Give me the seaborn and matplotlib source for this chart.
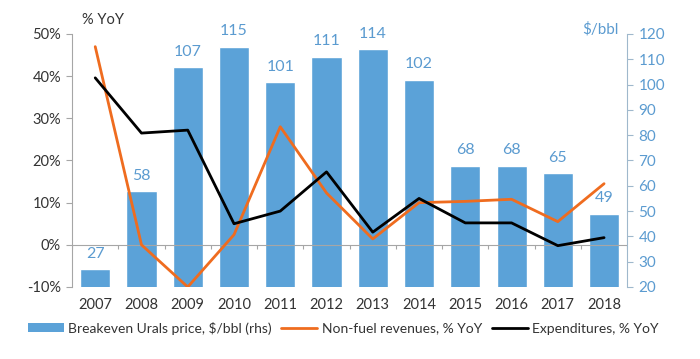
import matplotlib
matplotlib.use("Agg")
import matplotlib.pyplot as plt
import matplotlib.patches as mpatches
import seaborn as sns
import numpy as np
import pandas as pd

years = ["2007", "2008", "2009", "2010", "2011", "2012", "2013", "2014", "2015", "2016", "2017", "2018"]
breakeven = [27, 58, 107, 115, 101, 111, 114, 102, 68, 68, 65, 49]
nonfuel = [47, 0, -10, 2.4, 28, 12.3, 1.4, 10, 10.3, 10.8, 5.5, 14.5]
expend = [39.6, 26.5, 27.2, 5, 8, 17.3, 3, 11, 5.2, 5.2, -0.2, 1.7]

BLUE = "#5ba2d8"
BLUE_TXT = "#5b9bd0"
ORANGE = "#ef6c1f"
GRAY = "#a6a6a6"
TXT = "#333333"

sns.set_theme(style="white")
plt.rcParams["font.family"] = ["Lato", "DejaVu Sans"]

df = pd.DataFrame({"year": years, "breakeven": breakeven,
                   "nonfuel": nonfuel, "expend": expend})
df["pos"] = np.arange(len(years))

fig = plt.figure(figsize=(7.0, 3.59), dpi=100)
ax = fig.add_axes([0.103, 0.2006, 0.793, 0.7047])
ax2 = ax.twinx()

# bars on primary axis (right-side scale)
sns.barplot(data=df, x="year", y="breakeven", color=BLUE, width=0.65,
            saturation=1, ax=ax, zorder=2)
ax.set_ylim(20, 120)
ax.set_xlim(-0.5, 11.5)
ax.yaxis.tick_right()
ax.yaxis.set_label_position("right")
ax.set_yticks(np.arange(20, 121, 10))
ax.tick_params(axis="y", colors=BLUE_TXT, labelsize=11, length=4, width=0.8,
               direction="out", pad=4)
ax.tick_params(axis="y", color="#9fb8cc")
ax.tick_params(axis="x", length=0, labelsize=10.5, labelcolor=TXT, pad=8)
ax.set_xlabel("")
ax.set_ylabel("")
for c in ax.containers:
    ax.bar_label(c, labels=[str(v) for v in breakeven], padding=6,
                 color=BLUE_TXT, fontsize=11.5)
for s in ["top", "left", "bottom"]:
    ax.spines[s].set_visible(False)
ax.spines["right"].set_color("#9fb8cc")
ax.spines["right"].set_linewidth(0.8)
bar_handle = mpatches.Patch(facecolor=BLUE, edgecolor="none",
                            label="Breakeven Urals price, $/bbl (rhs)")

# lines on twin axis (left-side scale)
ax2.yaxis.tick_left()
ax2.yaxis.set_label_position("left")
sns.lineplot(data=df, x="pos", y="nonfuel", color=ORANGE, linewidth=2,
             ax=ax2, label="Non-fuel revenues, % YoY", legend=False, zorder=4)
sns.lineplot(data=df, x="pos", y="expend", color="black", linewidth=2,
             ax=ax2, label="Expenditures, % YoY", legend=False, zorder=5)
ax2.set_ylim(-10, 50)
ax2.set_xlim(-0.5, 11.5)
ax2.set_yticks(np.arange(-10, 51, 10))
ax2.yaxis.set_major_formatter(matplotlib.ticker.FuncFormatter(lambda v, p: f"{v:.0f}%"))
ax2.tick_params(axis="y", colors=TXT, labelsize=10.5, length=4, width=0.8,
                direction="out", pad=4)
ax2.tick_params(axis="y", color=GRAY)
ax2.set_xlabel("")
ax2.set_ylabel("")
for s in ["top", "right", "bottom"]:
    ax2.spines[s].set_visible(False)
ax2.spines["left"].set_color(GRAY)
ax2.spines["left"].set_linewidth(0.8)
ax2.axhline(0, color=GRAY, linewidth=0.8, zorder=3)
ax2.vlines(np.arange(-0.5, 12, 1.0), -1.0, 0, color=GRAY, linewidth=0.8, zorder=3)

fig.text(0.117, 0.945, "% YoY", color=TXT, fontsize=10.5, ha="left", va="center")
fig.text(0.884, 0.918, "$/bbl", color=BLUE_TXT, fontsize=11, ha="right", va="center")

h2, l2 = ax2.get_legend_handles_labels()
fig.legend([bar_handle] + h2, [bar_handle.get_label()] + l2, loc="center",
           bbox_to_anchor=(0.49, 0.086),
           ncol=3, frameon=False, fontsize=10, handlelength=2.6,
           handleheight=0.6, handletextpad=0.3, columnspacing=0.7,
           labelcolor=TXT)

fig.savefig("out.png", dpi=100, facecolor="white")
